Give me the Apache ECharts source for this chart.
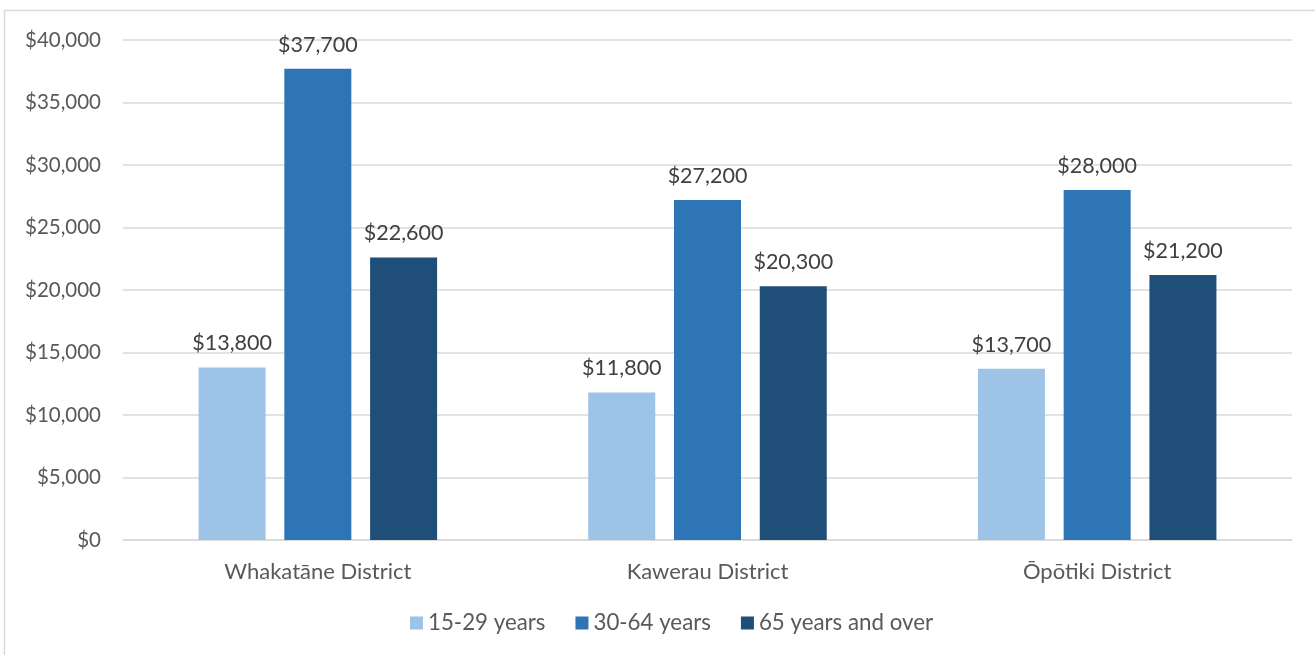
<!DOCTYPE html>
<html>
<head>
<meta charset="utf-8">
<script src="https://cdn.jsdelivr.net/npm/echarts@6/dist/echarts.min.js"></script>
<style>html,body{margin:0;padding:0;background:#fff;}#c{width:1315px;height:655px;}</style>
</head>
<body>
<div id="c"></div>
<script>
const categories = ['Whakatāne District', 'Kawerau District', 'Ōpōtiki District'];
const seriesNames = ['15-29 years', '30-64 years', '65 years and over'];
const age15to29 = [13800, 11800, 13700];
const age30to64 = [37700, 27200, 28000];
const age65plus = [22600, 20300, 21200];
const colors = ['#9DC3E6', '#2E75B6', '#1F4E79'];

const FONT = 'Lato, "Open Sans", sans-serif';
const chart = echarts.init(document.getElementById('c'), null, {renderer: 'canvas'});
const money = v => '$' + Number(v).toLocaleString('en-US');
const mk = (name, data, color) => ({
  name, type: 'bar', data,
  barWidth: 67, barGap: '28%',
  itemStyle: {color},
  label: {show: true, position: 'top', distance: 13, formatter: p => money(p.value),
    color: '#404040', fontSize: 21.5, fontFamily: FONT}
});
chart.setOption({
  animation: false,
  textStyle: {fontFamily: FONT},
  graphic: [
    {type: 'line', shape: {x1: 4.5, y1: 10.5, x2: 1315, y2: 10.5}, style: {stroke: '#d9d9d9', lineWidth: 1.5}},
    {type: 'line', shape: {x1: 4.5, y1: 10.5, x2: 4.5, y2: 655}, style: {stroke: '#d9d9d9', lineWidth: 1.5}}
  ],
  grid: {left: 123, right: 23, top: 40, bottom: 115, containLabel: false},
  legend: {
    bottom: 16, left: 405, itemWidth: 13, itemHeight: 13, itemGap: 30,
    icon: 'rect',
    textStyle: {color: '#595959', fontSize: 22.3, fontFamily: FONT}
  },
  xAxis: {
    type: 'category', data: categories,
    axisLine: {lineStyle: {color: '#d9d9d9', width: 1.5}},
    axisTick: {show: false},
    axisLabel: {color: '#595959', fontSize: 22, fontFamily: FONT, margin: 21}
  },
  yAxis: {
    type: 'value', min: 0, max: 40000, interval: 5000,
    axisLine: {show: false}, axisTick: {show: false},
    splitLine: {lineStyle: {color: '#d9d9d9', width: 1.5}},
    axisLabel: {color: '#595959', fontSize: 20.5, fontFamily: FONT, margin: 22, formatter: money}
  },
  series: [
    mk(seriesNames[0], age15to29, colors[0]),
    mk(seriesNames[1], age30to64, colors[1]),
    mk(seriesNames[2], age65plus, colors[2])
  ]
});
</script>
</body>
</html>
